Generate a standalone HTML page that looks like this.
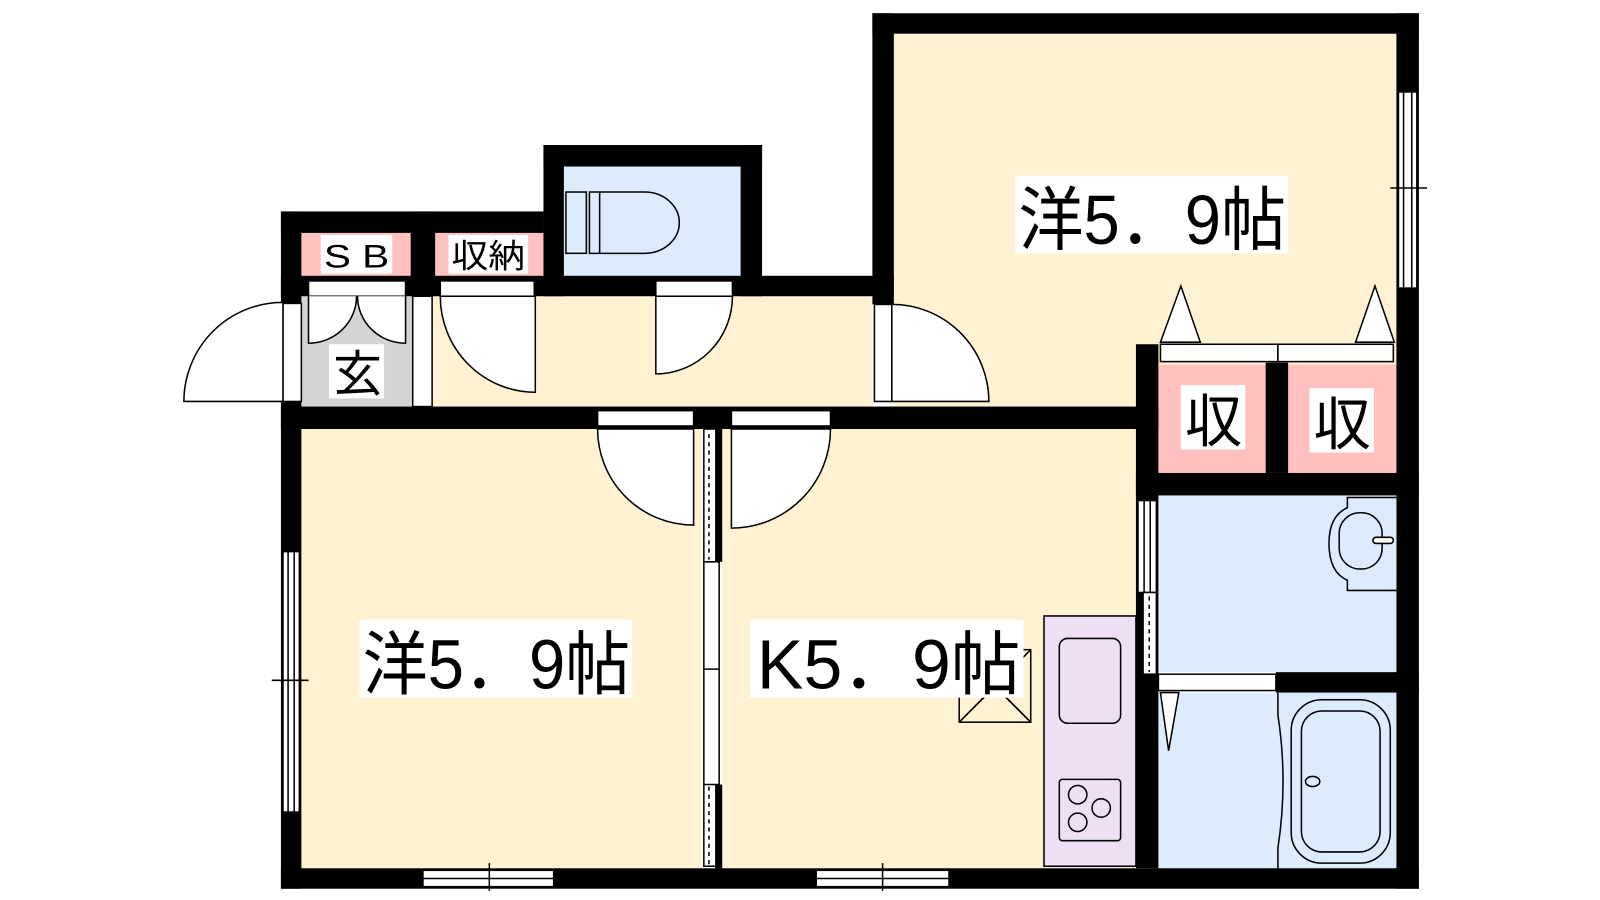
<!DOCTYPE html>
<html><head><meta charset="utf-8"><style>
html,body{margin:0;padding:0;background:#fff;width:1600px;height:900px;overflow:hidden}
svg{display:block}
text{font-family:"Liberation Sans","Noto Sans CJK JP",sans-serif;fill:#000}
</style></head><body>
<svg width="1600" height="900" viewBox="0 0 1600 900" xmlns="http://www.w3.org/2000/svg">
<g transform="translate(-1,0) scale(1.0215)">
<!-- floors -->
<g stroke="none">
<rect x="876" y="33" width="492" height="365" fill="#fff2d2"/>
<rect x="424" y="290" width="431" height="108" fill="#fff2d2"/>
<rect x="296" y="420" width="392" height="430" fill="#fff2d2"/>
<rect x="708" y="420" width="405" height="430" fill="#fff2d2"/>
<rect x="296" y="290" width="109" height="108" fill="#d4d4d4"/>
<rect x="553" y="163" width="173" height="107" fill="#dcecfd"/>
<rect x="1135" y="485" width="233" height="173" fill="#dcecfd"/>
<rect x="1135" y="678" width="233" height="172" fill="#dcecfd"/>
<rect x="296" y="228" width="107" height="42" fill="#ffc0c0"/>
<rect x="427" y="228" width="106" height="42" fill="#ffc0c0"/>
<rect x="1135" y="357" width="105" height="106" fill="#ffc0c0"/>
<rect x="1262" y="357" width="106" height="106" fill="#ffc0c0"/>
</g>
<!-- walls -->
<g fill="#000">
<rect x="855" y="13" width="535" height="20"/>
<rect x="855" y="13" width="21" height="285"/>
<rect x="1368" y="13" width="22" height="857"/>
<rect x="276" y="850" width="1114" height="20"/>
<rect x="276" y="207" width="20" height="663"/>
<rect x="276" y="207" width="257" height="21"/>
<rect x="533" y="142" width="214" height="21"/>
<rect x="533" y="142" width="20" height="148"/>
<rect x="726" y="142" width="21" height="148"/>
<rect x="403" y="207" width="24" height="83"/>
<rect x="276" y="270" width="600" height="20"/>
<rect x="276" y="398" width="859" height="22"/>
<rect x="1113" y="337" width="22" height="513"/>
<rect x="1240" y="355" width="22" height="108"/>
<rect x="1113" y="463" width="277" height="22"/>
<rect x="1250" y="658" width="140" height="20"/>
</g>
<g fill="#fff" stroke="#000" stroke-width="1.5">
<!-- entry door -->
<rect x="278" y="297" width="18" height="96"/>
<path d="M278,393 H181 A97,97 0 0 1 278,296 Z"/>
<!-- SB frame + doors -->
<rect x="303" y="275" width="95" height="15"/>
<path d="M303,290 V336 A47,46 0 0 0 350,290"/>
<path d="M398,290 V336 A47,46 0 0 1 351,290"/>
<rect x="405" y="290" width="19" height="108"/>
<!-- shuno -->
<rect x="432" y="275" width="92" height="15"/>
<path d="M525,290 H432 A93,94 0 0 0 525,384 Z"/>
<!-- toilet door -->
<rect x="643" y="275" width="75" height="15"/>
<path d="M643,290 V366 A75,76 0 0 0 718,290 Z"/>
<!-- big room door -->
<rect x="857" y="298" width="17" height="95"/>
<path d="M874,393 H969 A95,95 0 0 0 874,298 Z"/>
<!-- room doors -->
<rect x="586" y="402" width="94" height="15"/>
<path d="M680,420 V514 A94,94 0 0 1 586,420 Z"/>
<rect x="717" y="402" width="97" height="15"/>
<path d="M717,420 V517 A97,97 0 0 0 814,420 Z"/>
<!-- sliding partition -->
<rect x="690" y="420" width="15" height="428"/>
<!-- windows -->
<rect x="1370" y="90" width="18" height="192"/>
<rect x="278" y="540" width="16" height="255"/>
<rect x="415" y="852" width="128" height="16"/>
<rect x="800" y="852" width="130" height="16"/>
<!-- closet -->
<rect x="1137" y="337" width="115" height="17"/>
<rect x="1252" y="337" width="113" height="17"/>
<path d="M1137,335 L1157,280 L1176,335 Z"/>
<path d="M1328,335 L1347,280 L1366,335 Z"/>
<!-- wash door -->
<rect x="1115" y="490" width="18" height="90"/>
<rect x="1120" y="580" width="13" height="80"/>
<rect x="1135" y="660" width="115" height="16"/>
<path d="M1137,678 L1145,735 L1155,678 Z"/>
<!-- fridge -->
<rect x="940" y="636" width="70" height="71" fill="none"/>
</g>
<g stroke="#000" stroke-width="1.5" fill="none">
<path d="M940,707 L975,672 L1010,707 M940,636 L1010,707 M1010,636 L940,707" />
<path d="M1375,90 V282 M1383,90 V282 M1362,184 H1398"/>
<path d="M283,540 V795 M289,540 V795 M267,666 H303"/>
<path d="M415,860 H543 M800,860 H930 M480,845 V872 M865,845 V872"/>
<path d="M1121,490 V580 M1127,490 V580"/>
<path d="M1126,584 V658" stroke-dasharray="4,4"/>
<path d="M695,425 V548 M695,770 V846" stroke-dasharray="4,4"/>
<path d="M690,550 H705 M690,655 H705 M690,768 H705"/>
</g>
<rect x="701" y="420" width="7" height="130" fill="#000"/>
<rect x="701" y="768" width="7" height="82" fill="#000"/>
<!-- toilet fixture -->
<g fill="#dcecfd" stroke="#000" stroke-width="1.5">
<rect x="555" y="188" width="20" height="60"/>
<path d="M578,188 H632 A34,30 0 0 1 632,248 H578 Z"/>
<path d="M588,188 V248"/>
<!-- washbasin -->
<path d="M1368,487 H1320 V497 Q1302,505 1302,532 Q1302,560 1320,568 V578 H1368"/>
<rect x="1312" y="502" width="42" height="55" rx="20"/>
<rect x="1345" y="526" width="20" height="6" rx="3" fill="#fff"/>
<!-- tub -->
<path d="M1252,678 V700 Q1262,765 1252,830 V850" fill="none"/>
<rect x="1265" y="685" width="97" height="160" rx="30"/>
<rect x="1275" y="696" width="77" height="138" rx="20"/>
<ellipse cx="1286" cy="765" rx="7" ry="5"/>
</g>
<!-- kitchen -->
<g stroke="#000" stroke-width="1.5">
<rect x="1023" y="603" width="90" height="245" fill="#eedff5"/>
<rect x="1038" y="625" width="60" height="83" rx="8" fill="#eedff5"/>
<rect x="1038" y="763" width="60" height="60" rx="3" fill="#eedff5"/>
<g fill="none"><circle cx="1056" cy="778" r="9"/><circle cx="1079" cy="791" r="9"/><circle cx="1056" cy="805" r="9"/></g>
</g>
<!-- labels -->
<g fill="#fff">
<rect x="995" y="172" width="267" height="76"/>
<rect x="353" y="607" width="267" height="76"/>
<rect x="735" y="607" width="268" height="76"/>
<rect x="315" y="230" width="70" height="38"/>
<rect x="440" y="230" width="78" height="38"/>
<rect x="323" y="337" width="54" height="53"/>
<rect x="1157" y="377" width="63" height="63"/>
<rect x="1283" y="380" width="63" height="63"/>
</g>
<text x="998" y="239" font-size="68" textLength="262" lengthAdjust="spacingAndGlyphs">洋5．9帖</text>
<text x="356" y="674" font-size="68" textLength="262" lengthAdjust="spacingAndGlyphs">洋5．9帖</text>
<text x="742" y="674" font-size="68" textLength="258" lengthAdjust="spacingAndGlyphs">K5．9帖</text>
<text x="318" y="262" font-size="32" textLength="64" lengthAdjust="spacingAndGlyphs">S B</text>
<text x="443" y="262" font-size="32" textLength="72" lengthAdjust="spacingAndGlyphs">収納</text>
<text x="327" y="383" font-size="48">玄</text>
<text x="1161" y="432" font-size="56">収</text>
<text x="1287" y="435" font-size="56">収</text>
</g>
</svg>
</body></html>
